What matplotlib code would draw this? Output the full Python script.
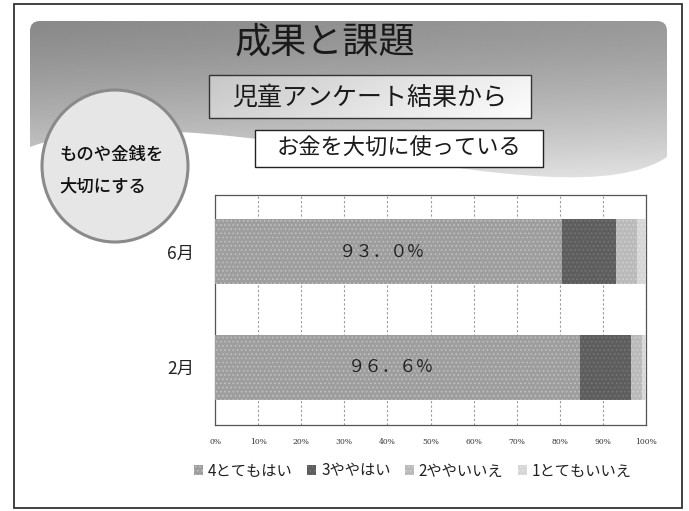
import numpy as np
import matplotlib
matplotlib.use("Agg")
import matplotlib.pyplot as plt
from matplotlib.patches import Rectangle, Ellipse, PathPatch, Patch
from matplotlib.path import Path

plt.rcParams['font.family'] = ['Noto Sans CJK JP', 'DejaVu Sans']
plt.rcParams['hatch.linewidth'] = 0.6

# ---- data ----
categories = ["2月", "6月"]
series_names = ["4とてもはい", "3ややはい", "2ややいいえ", "1とてもいいえ"]
v4 = [84.7, 80.5]
v3 = [11.9, 12.5]
v2 = [2.4, 5.0]
v1 = [1.0, 2.0]
labels = ["９６．６%", "９３．０%"]
xticks = [0, 10, 20, 30, 40, 50, 60, 70, 80, 90, 100]
xticklabels = [f"{t}%" for t in xticks]

title = "成果と課題"
sub1 = "児童アンケート結果から"
sub2 = "お金を大切に使っている"
circle_text = "ものや金銭を\n大切にする"

W, H = 689, 511
fig = plt.figure(figsize=(W / 100, H / 100), dpi=100)
fig.patch.set_facecolor("white")

# ---- decoration overlay (pixel coordinates) ----
bg = fig.add_axes([0, 0, 1, 1], zorder=0)
bg.set_xlim(0, W)
bg.set_ylim(H, 0)
bg.axis("off")

# outer frame
bg.add_patch(Rectangle((14, 4), 668, 504, fill=False, ec="#333333", lw=1.3))

# banner with wavy bottom
x0, x1, yt, r = 30, 667, 21, 10
verts = [
    (x0 + r, yt), (x1 - r, yt), (x1, yt), (x1, yt + r),
    (x1, 157),
    (560, 228), (200, 85), (x0, 147),
    (x0, yt + r), (x0, yt), (x0 + r, yt), (x0 + r, yt),
]
codes = [Path.MOVETO, Path.LINETO, Path.CURVE3, Path.CURVE3,
         Path.LINETO,
         Path.CURVE4, Path.CURVE4, Path.CURVE4,
         Path.LINETO, Path.CURVE3, Path.CURVE3, Path.CLOSEPOLY]
banner = PathPatch(Path(verts, codes), fc="none", ec="none")
bg.add_patch(banner)
gx = np.linspace(0, 1, 200)
gy = np.linspace(0, 1, 120)
GX, GY = np.meshgrid(gx, gy)
grad = 0.54 + 0.34 * GY ** 1.3 + 0.06 * GX
im = bg.imshow(grad, extent=(x0, x1, 200, yt), cmap="gray", vmin=0, vmax=1,
               aspect="auto", zorder=1, interpolation="bilinear")
im.set_clip_path(banner)

# title
bg.text(325, 42, title, fontsize=26, ha="center", va="center", color="#1a1a1a", zorder=5)

# box 1 with gradient
bx, by, bw, bh = 209, 75, 322, 43
g1 = np.linspace(0.78, 0.95, 100)[None, :] * np.ones((20, 1))
g1 = g1 + np.linspace(0, 0.04, 20)[:, None]
bg.imshow(g1, extent=(bx, bx + bw, by + bh, by), cmap="gray", vmin=0, vmax=1,
          aspect="auto", zorder=3)
bg.add_patch(Rectangle((bx, by), bw, bh, fill=False, ec="#333333", lw=1.0, zorder=4))
bg.text(bx + bw / 2, by + bh / 2 + 1, sub1, fontsize=18, ha="center", va="center",
        color="#1a1a1a", zorder=5)

# box 2
cx, cy, cw, ch = 255, 130, 288, 37
bg.add_patch(Rectangle((cx, cy), cw, ch, fc="white", ec="#222222", lw=1.0, zorder=4))
bg.text(cx + cw / 2, cy + ch / 2, sub2, fontsize=16, ha="center", va="center",
        color="#1a1a1a", zorder=5)

# circle
bg.add_patch(Ellipse((115, 166), 146, 152, fc="#e6e6e6", ec="#8a8a8a", lw=2.2, zorder=4))
bg.text(59, 171, circle_text, fontsize=12.5, ha="left", va="center", color="#111111",
        linespacing=1.95, fontweight="medium", zorder=5)

# ---- chart ----
L, R, T, B = 215, 646, 195, 425
ax = fig.add_axes([L / W, 1 - B / H, (R - L) / W, (B - T) / H], zorder=2)
ypos = np.arange(len(categories))
h = 0.56
cols = ["#9e9e9e", "#5e5e5e", "#bababa", "#d6d6d6"]
hatch_cols = ["#c4c4c4", "#787878", "#d2d2d2", "#e6e6e6"]
left = np.zeros(len(categories))
for vals, c, hc in zip([v4, v3, v2, v1], cols, hatch_cols):
    vals = np.array(vals)
    ax.barh(ypos, vals, left=left, height=h, color=c, edgecolor=hc, lw=0,
            hatch="....", zorder=3)
    left = left + vals

for y, a, lab in zip(ypos, v4, labels):
    ax.text(a / 2 - 1.5, y, lab, ha="center", va="center", fontsize=12.5,
            color="#222222", zorder=5)

ax.set_xlim(0, 100)
ax.set_ylim(-0.5, 1.49)
ax.set_yticks(ypos)
ax.set_yticklabels(categories, fontsize=12.5, color="#222222")
ax.set_xticks(xticks)
ax.set_xticklabels(xticklabels, fontsize=5.5, family="DejaVu Serif", color="#333333")
ax.tick_params(axis="both", length=0)
ax.tick_params(axis="y", pad=15)
ax.tick_params(axis="x", pad=9)
ax.grid(axis="x", color="#9a9a9a", lw=0.8, ls=(0, (2, 2)), zorder=0)
ax.set_axisbelow(True)
for s in ax.spines.values():
    s.set_color("#555555")
    s.set_linewidth(0.9)

handles = [Patch(facecolor=c, edgecolor=hc, hatch="....", lw=0) for c, hc in zip(cols, hatch_cols)]
fig.legend(handles, series_names, loc="center", bbox_to_anchor=(413 / W, 1 - 471 / H),
           ncol=4, frameon=False, fontsize=11, handlelength=0.6, handleheight=0.6,
           handletextpad=0.3, columnspacing=0.95, labelcolor="#222222")

fig.savefig("out.png", dpi=100, facecolor="white")
